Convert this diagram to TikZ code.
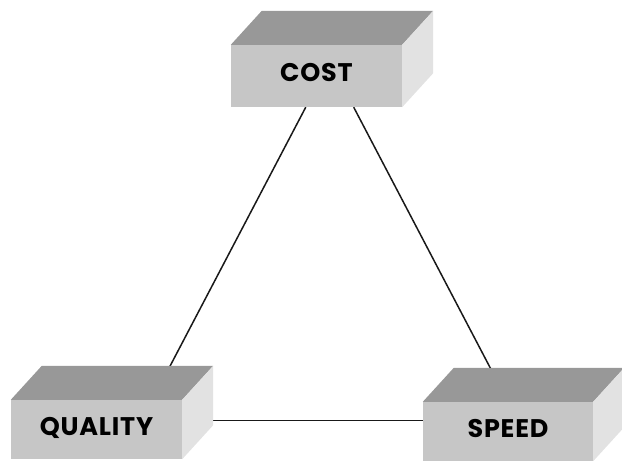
\documentclass[tikz,border=0pt]{standalone}
\usepackage{fontspec}
\setmainfont{Poppins}[LetterSpace=3]
\usetikzlibrary{backgrounds}

\definecolor{frontgray}{RGB}{198,198,198}
\definecolor{topgray}{RGB}{152,152,152}
\definecolor{sidegray}{RGB}{226,226,226}

\tikzset{
  block/.style={fill=frontgray, inner sep=0pt, minimum width=171pt,
    font=\bfseries\fontsize{25.5}{26}\selectfont, text height=12pt, text depth=0pt},
  topface/.style={fill=topgray},
  sideface/.style={fill=sidegray},
  link/.style={draw=black!90, line width=1.5pt}
}

\begin{document}
\begin{tikzpicture}[x=1pt,y=1pt]
  \useasboundingbox (0,0) rectangle (622,461);
  % front faces
  \node[block, minimum height=62pt] (cost) at (316.5,385) {COST};
  \node[block, minimum height=59pt] (quality) at (96.5,31.5) {QUALITY};
  \node[block, minimum height=59pt, minimum width=170pt] (speed) at (508,29.5) {SPEED};
  % top and side faces
  \foreach \n in {cost,quality,speed} {
    \fill[topface] (\n.north west) -- ++(31,34) -- ([shift={(31,34)}]\n.north east)
      -- (\n.north east) -- cycle;
    \fill[sideface] (\n.north east) -- ++(31,34) -- ([shift={(31,34)}]\n.south east)
      -- (\n.south east) -- cycle;
  }
  % links run behind the blocks
  \begin{pgfonlayer}{background}
    \draw[link] (cost.251) -- (quality.28);
    \draw[link] (cost.320) -- (speed.north);
    \draw[link] (quality.6) -- (quality.6 -| speed.west);
  \end{pgfonlayer}
\end{tikzpicture}
\end{document}
